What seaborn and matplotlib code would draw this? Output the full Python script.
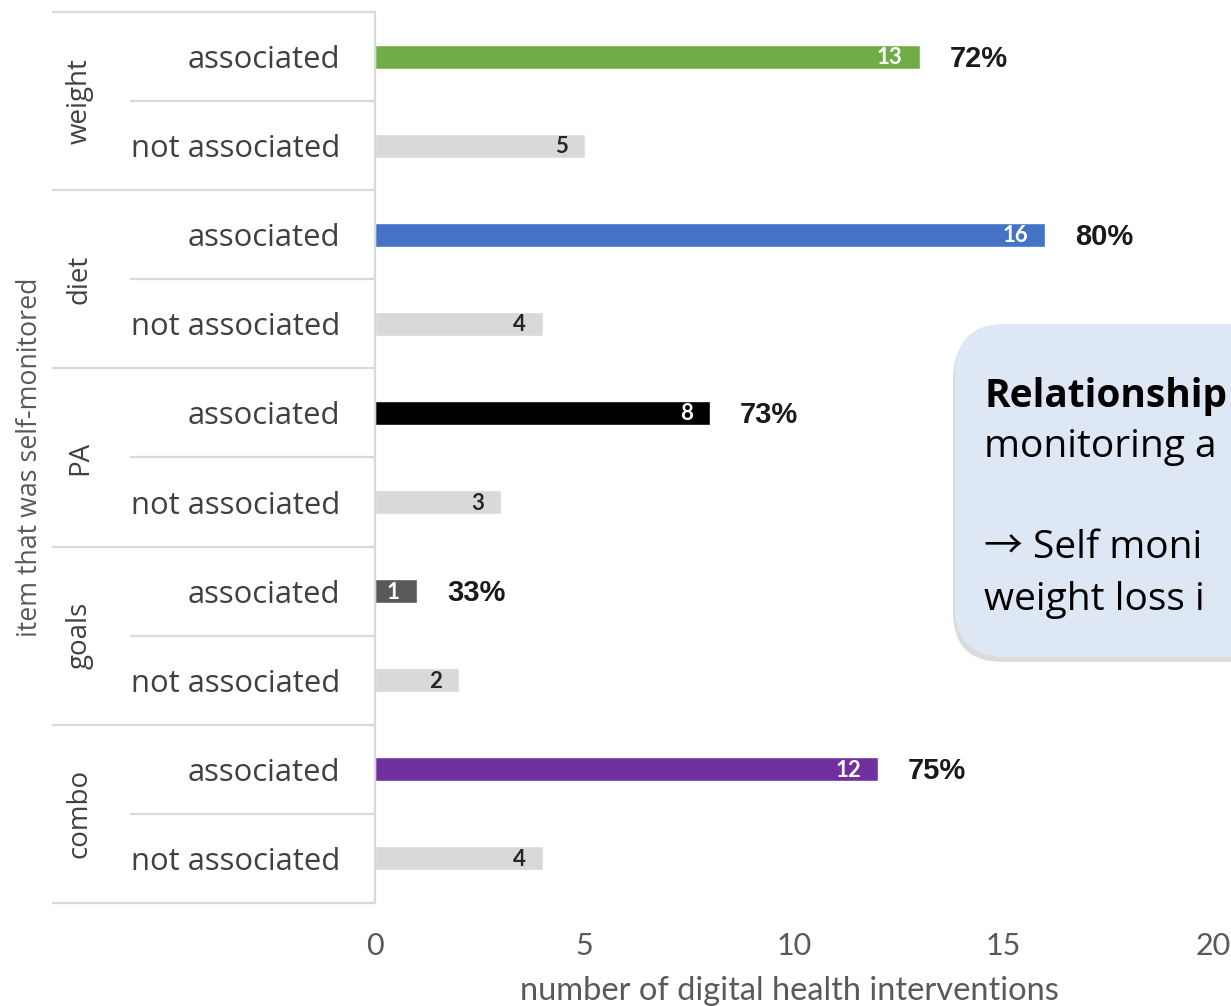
import matplotlib
matplotlib.use("Agg")
import matplotlib.pyplot as plt
import matplotlib.transforms as mtransforms
from matplotlib.patches import FancyBboxPatch
import pandas as pd
import seaborn as sns

# ---- data -------------------------------------------------------------
items = ["weight", "diet", "PA", "goals", "combo"]
status = ["associated", "not associated"]
associated_counts = [13, 16, 8, 1, 12]
not_associated_counts = [5, 4, 3, 2, 4]
associated_share = ["72%", "80%", "73%", "33%", "75%"]
item_colors = ["#70AD47", "#4472C4", "#000000", "#595959", "#7030A0"]
not_associated_color = "#D9D9D9"
x_ticks = [0, 5, 10, 15, 20]

# callout note at the right edge (text, weight)
callout_lines = [
    ("Relationship", "bold"),
    ("monitoring a", "normal"),
    ("\u2192 Self moni", "normal"),
    ("weight loss i", "normal"),
]

# ---- table for seaborn -----------------------------------------------
rows = []
for item, a, n, col in zip(items, associated_counts, not_associated_counts, item_colors):
    rows.append({"key": f"{item} | associated", "item": item, "status": status[0],
                 "count": a, "color": col})
    rows.append({"key": f"{item} | not associated", "item": item, "status": status[1],
                 "count": n, "color": not_associated_color})
df = pd.DataFrame(rows)
keys = list(df["key"])
palette = dict(zip(df["key"], df["color"]))

sns.set_theme(style="white")
plt.rcParams["font.family"] = ["Open Sans", "DejaVu Sans"]

W, H = 1231, 1006
fig = plt.figure(figsize=(W / 100, H / 100), dpi=100)
ax_left, ax_right, ax_top, ax_bottom = 375, 1213, 12, 903
ax = fig.add_axes([ax_left / W, 1 - ax_bottom / H,
                   (ax_right - ax_left) / W, (ax_bottom - ax_top) / H])

sns.barplot(data=df, y="key", x="count", hue="key", palette=palette,
            order=keys, hue_order=keys, dodge=False, width=0.27,
            saturation=1, legend=False, orient="h", ax=ax)

ax.set_xlim(0, 20)
ax.set_ylim(len(keys) - 0.5, -0.5)
ax.set_xticks(x_ticks)
ax.set_xticklabels([str(t) for t in x_ticks], family="Lato", fontsize=22, color="#595959")
ax.set_yticks(range(len(keys)))
ax.set_yticklabels(list(df["status"]), fontsize=22.3, color="#404040")
ax.tick_params(axis="y", length=0, pad=25)
ax.tick_params(axis="x", length=0, pad=21)

for side in ["top", "right", "bottom"]:
    ax.spines[side].set_visible(False)
ax.spines["left"].set_color("#D9D9D9")
ax.spines["left"].set_linewidth(1.6)

ax.set_xlabel("number of digital health interventions", family="Lato",
              fontsize=23.5, color="#595959")
ax.xaxis.set_label_coords(0.495, -0.082)
ax.set_ylabel("item that was self-monitored", fontsize=19.3, color="#595959")
ax.yaxis.set_label_coords((44 - ax_left) / (ax_right - ax_left), 0.5)

# ---- grouped category frame on the left -------------------------------
blend = mtransforms.blended_transform_factory(ax.transAxes, ax.transData)
span = ax_right - ax_left
group_x0 = (52 - ax_left) / span
sub_x0 = (130 - ax_left) / span
for g in range(len(items) + 1):
    y = 2 * g - 0.5
    ax.plot([group_x0, 0], [y, y], transform=blend, clip_on=False,
            color="#D9D9D9", lw=1.6, solid_capstyle="butt")
for g in range(len(items)):
    y = 2 * g + 0.5
    ax.plot([sub_x0, 0], [y, y], transform=blend, clip_on=False,
            color="#D9D9D9", lw=1.6, solid_capstyle="butt")
    ax.text((80 - ax_left) / span, y, items[g], transform=blend, rotation=90,
            ha="center", va="center", fontsize=20, color="#404040")

# ---- value and share labels --------------------------------------------
for g, (a, n, share) in enumerate(zip(associated_counts, not_associated_counts, associated_share)):
    ya, yn = 2 * g, 2 * g + 1
    ax.annotate(str(a), xy=(a, ya), xytext=(-17, -1), textcoords="offset pixels",
                ha="right", va="center", family="Lato", fontweight="bold",
                fontsize=16, color="white")
    ax.annotate(share, xy=(a, ya), xytext=(30, -2), textcoords="offset pixels",
                ha="left", va="center", family="Liberation Sans", fontweight="bold",
                fontsize=21, color="#1A1A1A")
    ax.annotate(str(n), xy=(n, yn), xytext=(-17, -1), textcoords="offset pixels",
                ha="right", va="center", family="Lato", fontweight="bold",
                fontsize=16, color="#262626")

# ---- callout box -------------------------------------------------------
inch = fig.dpi_scale_trans
bx, by_top, by_bot = 955, 324, 657
shadow = FancyBboxPatch((bx / 100 - 0.02, (H - by_bot) / 100 - 0.05), 7.0,
                        (by_bot - by_top) / 100,
                        boxstyle="round,pad=0,rounding_size=0.5",
                        transform=inch, facecolor="#9A9A9A", edgecolor="none",
                        alpha=0.35, zorder=5)
box = FancyBboxPatch((bx / 100, (H - by_bot) / 100), 7.0, (by_bot - by_top) / 100,
                     boxstyle="round,pad=0,rounding_size=0.5",
                     transform=inch, facecolor="#DEE8F5", edgecolor="none",
                     zorder=6)
fig.add_artist(shadow)
fig.add_artist(box)
baselines = [407, 457, 558, 610]
for (txt, weight), yb in zip(callout_lines, baselines):
    fig.text(984 / 100, (H - yb) / 100, txt, transform=inch, ha="left",
             va="baseline", fontsize=28, fontweight=weight, color="black",
             family=["Open Sans", "Noto Sans CJK KR"], zorder=7)

fig.savefig("out.png", dpi=100)
